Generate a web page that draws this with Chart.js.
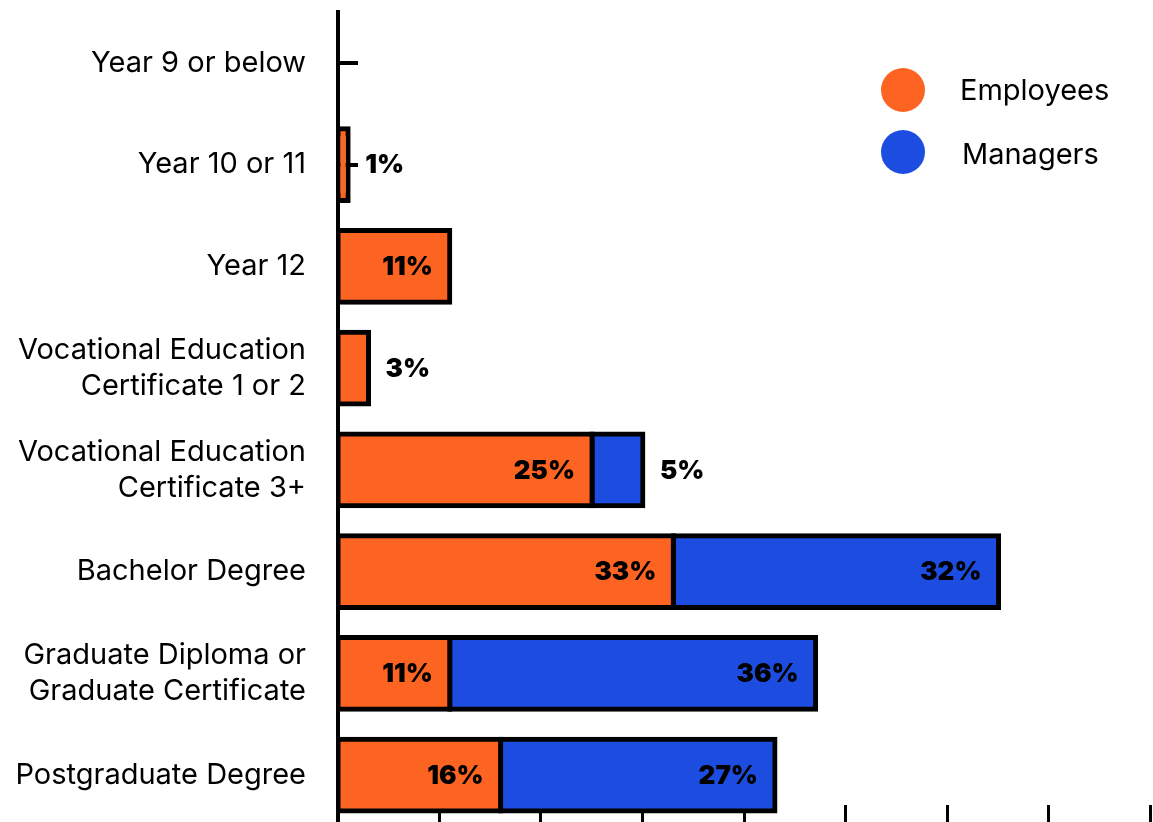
<!DOCTYPE html>
<html>
<head>
<meta charset="utf-8">
<script src="https://cdn.jsdelivr.net/npm/chart.js@4.4.1/dist/chart.umd.min.js"></script>
<style>
  html, body { margin: 0; padding: 0; background: #fff; overflow: hidden; }
  #wrap { width: 1153px; height: 822px; overflow: hidden; }
</style>
</head>
<body>
<div id="wrap"><canvas id="eduChart" width="1153" height="830"></canvas></div>
<script>
// qualification levels, top to bottom
const categories = [
    'Year 9 or below',
    'Year 10 or 11',
    'Year 12',
    ['Vocational Education', 'Certificate 1 or 2'],
    ['Vocational Education', 'Certificate 3+'],
    'Bachelor Degree',
    ['Graduate Diploma or', 'Graduate Certificate'],
    'Postgraduate Degree'
];
const employees = [0, 1, 11, 3, 25, 33, 11, 16];
const managers = [0, 0, 0, 0, 5, 32, 36, 27];
const seriesNames = ['Employees', 'Managers'];
const xMax = 80;
const xStep = 10;

const ORANGE = '#fe6421';
const BLUE = '#1c4de0';
const FONT = 'Inter, "Noto Sans", sans-serif';

// small tick marks pointing into the plot area
const axisMarks = {
    id: 'axisMarks',
    beforeDatasetsDraw(chart) {
        const { ctx, chartArea, scales: { x, y } } = chart;
        ctx.save();
        ctx.strokeStyle = '#000';
        ctx.lineWidth = 4;
        y.ticks.forEach((t, i) => {
            const py = Math.round(y.getPixelForTick(i));
            ctx.beginPath();
            ctx.moveTo(chartArea.left, py);
            ctx.lineTo(chartArea.left + 20, py);
            ctx.stroke();
        });
        ctx.lineWidth = 3;
        x.ticks.forEach((t) => {
            if (t.value === 0) return;
            const px = Math.round(x.getPixelForValue(t.value)) - 0.5;
            ctx.beginPath();
            ctx.moveTo(px, chartArea.bottom);
            ctx.lineTo(px, chartArea.bottom - 21);
            ctx.stroke();
        });
        ctx.restore();
    }
};

// percentage labels, inside the segment end or just after it
const valueLabels = {
    id: 'valueLabels',
    afterDatasetsDraw(chart) {
        const { ctx } = chart;
        ctx.save();
        ctx.font = '900 26px ' + FONT;
        ctx.fillStyle = '#000';
        ctx.textBaseline = 'middle';
        chart.data.datasets.forEach((ds, di) => {
            const meta = chart.getDatasetMeta(di);
            meta.data.forEach((bar, i) => {
                const v = ds.data[i];
                if (!v) return;
                const w = Math.abs(bar.x - bar.base);
                const txt = v + '%';
                if (w > 70) {
                    ctx.textAlign = 'right';
                    ctx.fillText(txt, bar.x - 17, bar.y + 1);
                } else {
                    ctx.textAlign = 'left';
                    ctx.fillText(txt, bar.x + 17, bar.y + 1);
                }
            });
        });
        ctx.restore();
    }
};

// legend sitting inside the top right of the plot
const cornerLegend = {
    id: 'cornerLegend',
    afterDraw(chart) {
        const { ctx } = chart;
        ctx.save();
        ctx.font = '29px ' + FONT;
        ctx.textBaseline = 'middle';
        ctx.textAlign = 'left';
        chart.data.datasets.forEach((ds, i) => {
            const cy = 90 + i * 62;
            ctx.fillStyle = ds.backgroundColor;
            ctx.beginPath();
            ctx.arc(903, cy, 22, 0, Math.PI * 2);
            ctx.fill();
            ctx.fillStyle = '#000';
            ctx.fillText(ds.label, 960 + i * 2, cy + 1 + i * 2);
        });
        ctx.restore();
    }
};

// outline is centred on the segment edge, like a stroked rect
const barStyle = {
    borderColor: '#000',
    borderWidth: 5,
    borderSkipped: false,
    inflateAmount: 2.5,
    barPercentage: 0.703,
    categoryPercentage: 1
};

const ctx = document.getElementById('eduChart').getContext('2d');
const eduChart = new Chart(ctx, {
    type: 'bar',
    data: {
        labels: categories,
        datasets: [{
            label: seriesNames[0],
            data: employees.map(v => v || null),
            backgroundColor: ORANGE,
            ...barStyle
        }, {
            label: seriesNames[1],
            data: managers.map(v => v || null),
            backgroundColor: BLUE,
            ...barStyle
        }]
    },
    options: {
        indexAxis: 'y',
        responsive: false,
        animation: false,
        layout: { padding: { top: 12, right: 2, bottom: 4, left: 0 } },
        scales: {
            x: {
                display: false,
                stacked: true,
                min: 0,
                max: xMax,
                ticks: { stepSize: xStep }
            },
            y: {
                stacked: true,
                z: 1,
                afterFit(scale) {
                    scale.width = 338;
                    scale.paddingTop = 0;
                    scale.paddingBottom = 0;
                },
                border: { display: true, color: '#000', width: 4 },
                grid: { drawOnChartArea: false, drawTicks: false },
                ticks: {
                    padding: 32,
                    color: '#000',
                    font: { family: FONT, size: 29, lineHeight: 1.24 }
                }
            }
        },
        plugins: {
            legend: { display: false },
            tooltip: { enabled: false }
        }
    },
    plugins: [axisMarks, valueLabels, cornerLegend]
});
</script>
</body>
</html>
